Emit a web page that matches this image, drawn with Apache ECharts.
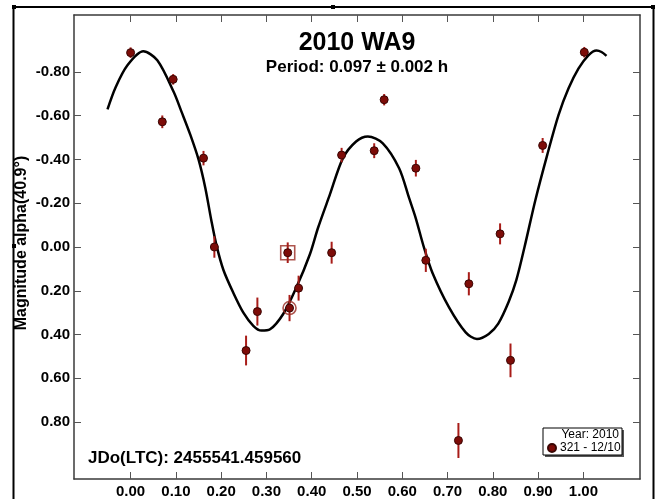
<!DOCTYPE html>
<html>
<head>
<meta charset="utf-8">
<title>2010 WA9</title>
<script src="https://cdn.jsdelivr.net/npm/echarts@6/dist/echarts.min.js"></script>
<style>
  html, body { margin: 0; padding: 0; background: #fff; }
  #chart { width: 657px; height: 499px; }
</style>
</head>
<body>
<div id="chart"></div>
<script>
// Datos (fase, magnitud, error)
const phase = [0.000, 0.070, 0.094, 0.161, 0.185, 0.255, 0.280, 0.347, 0.351, 0.371, 0.444,
               0.466, 0.538, 0.560, 0.630, 0.652, 0.724, 0.747, 0.816, 0.839, 0.910, 1.002];
const magnitude = [-0.888, -0.572, -0.766, -0.406, 0.000, 0.473, 0.295, 0.026, 0.279, 0.188, 0.026,
                   -0.420, -0.440, -0.673, -0.360, 0.061, 0.884, 0.168, -0.060, 0.518, -0.464, -0.890];
const magError = [0.024, 0.029, 0.024, 0.033, 0.049, 0.068, 0.064, 0.047, 0.060, 0.057, 0.050,
                  0.033, 0.034, 0.026, 0.038, 0.053, 0.080, 0.053, 0.048, 0.077, 0.034, 0.024];

const fitPhase = [-0.051, -0.033, -0.007, 0.028, 0.059, 0.095, 0.113, 0.132, 0.150, 0.165, 0.178,
                  0.190, 0.205, 0.227, 0.249, 0.271, 0.289, 0.308, 0.337, 0.366, 0.396, 0.414,
                  0.440, 0.469, 0.498, 0.524, 0.557, 0.593, 0.615, 0.630, 0.648, 0.667, 0.703,
                  0.740, 0.765, 0.791, 0.812, 0.835, 0.852, 0.870, 0.894, 0.920, 0.945, 0.967,
                  0.989, 1.011, 1.029, 1.040, 1.051];
const fitMag = [-0.629, -0.730, -0.830, -0.894, -0.853, -0.709, -0.615, -0.512, -0.400, -0.270, -0.125,
                -0.005, 0.105, 0.210, 0.300, 0.360, 0.382, 0.376, 0.306, 0.185, 0.033, -0.088,
                -0.239, -0.406, -0.482, -0.505, -0.474, -0.360, -0.224, -0.130, 0.003, 0.120, 0.275,
                0.390, 0.420, 0.397, 0.350, 0.250, 0.150, 0.000, -0.215, -0.420, -0.603, -0.724,
                -0.815, -0.876, -0.898, -0.891, -0.873];

// Puntos marcados (cuadrado y círculo)
const squarePoint = [0.347, 0.026];
const circlePoint = [0.351, 0.279];

const xTicks = [0, 0.1, 0.2, 0.3, 0.4, 0.5, 0.6, 0.7, 0.8, 0.9, 1.0];
const yTicks = [-0.8, -0.6, -0.4, -0.2, 0, 0.2, 0.4, 0.6, 0.8];

const seriesName = '321 - 12/10';

document.addEventListener('DOMContentLoaded', function() {
    const chart = echarts.init(document.getElementById('chart'), null, { renderer: 'canvas' });
    const font = "'Liberation Sans', Arial, sans-serif";
    const axisColor = '#3a3a3a';

    const points = phase.map((p, i) => [p, magnitude[i], magError[i]]);
    const fitLine = fitPhase.map((p, i) => [p, fitMag[i]]);

    // Ejes con marcas hacia dentro
    function xAxis(pos, showLabels) {
        return {
            type: 'value', position: pos, min: -0.125, max: 1.125,
            axisLine: { show: true, onZero: false, lineStyle: { color: axisColor, width: 1.5 } },
            axisTick: { show: true, inside: true, length: 7, customValues: xTicks,
                        lineStyle: { color: '#555', width: 1 } },
            axisLabel: { show: showLabels, customValues: xTicks, margin: 5,
                         formatter: v => v.toFixed(2),
                         color: '#000', fontFamily: font, fontWeight: 'bold', fontSize: 15 },
            splitLine: { show: false }
        };
    }
    function yAxis(pos, showLabels) {
        return {
            type: 'value', position: pos, inverse: true, min: -1.06, max: 1.06,
            axisLine: { show: true, onZero: false, lineStyle: { color: axisColor, width: 1.5 } },
            axisTick: { show: true, inside: true, length: 7, customValues: yTicks,
                        lineStyle: { color: '#555', width: 1 } },
            axisLabel: { show: showLabels, customValues: yTicks, margin: 4,
                         formatter: v => v.toFixed(2),
                         color: '#000', fontFamily: font, fontWeight: 'bold', fontSize: 15 },
            splitLine: { show: false }
        };
    }

    const option = {
        animation: false,
        backgroundColor: '#fff',
        grid: { left: 74, right: 17, top: 15, bottom: 17 },
        xAxis: [xAxis('bottom', true), xAxis('top', false)],
        yAxis: [yAxis('left', true), yAxis('right', false)],
        legend: {
            data: [{ name: seriesName, icon: 'circle' }],
            left: 547, top: 442, padding: 0,
            itemWidth: 8, itemHeight: 8, itemGap: 4,
            textStyle: { fontFamily: font, fontSize: 12, color: '#000', padding: [0, 0, 0, -1] }
        },
        series: [
            {
                name: 'fit', type: 'line', data: fitLine, smooth: 0.3,
                showSymbol: false, lineStyle: { color: '#000', width: 2.5 }, z: 2
            },
            {
                name: 'err', type: 'custom', data: points, z: 3,
                encode: { x: 0, y: 1 },
                renderItem: function(params, api) {
                    const x = api.value(0), y = api.value(1), e = api.value(2);
                    const p1 = api.coord([x, y - e]);
                    const p2 = api.coord([x, y + e]);
                    return {
                        type: 'line',
                        shape: { x1: p1[0], y1: p1[1], x2: p2[0], y2: p2[1] },
                        style: { stroke: '#a81c18', lineWidth: 2 }
                    };
                }
            },
            {
                name: seriesName, type: 'scatter', data: points, symbolSize: 8, z: 4,
                encode: { x: 0, y: 1 },
                itemStyle: { color: '#7d0c08', borderColor: '#3a0604', borderWidth: 1, opacity: 1 }
            },
            {
                name: 'square', type: 'scatter', data: [squarePoint], symbol: 'rect', symbolSize: 14, z: 5,
                itemStyle: { color: 'rgba(0,0,0,0)', borderColor: '#9a2a22', borderWidth: 1.6 }
            },
            {
                name: 'circle', type: 'scatter', data: [circlePoint], symbol: 'circle', symbolSize: 13, z: 5,
                itemStyle: { color: 'rgba(0,0,0,0)', borderColor: '#9a2a22', borderWidth: 1.6 }
            }
        ],
        graphic: [
            // Marco exterior
            { type: 'polyline', shape: { points: [[13.5, 499], [13.5, 7], [653.5, 7], [653.5, 499]] },
              style: { stroke: '#000', lineWidth: 2, fill: null }, silent: true },
            { type: 'rect', shape: { x: 12, y: 5, width: 4, height: 4 }, style: { fill: '#000' } },
            { type: 'rect', shape: { x: 651, y: 5, width: 4, height: 4 }, style: { fill: '#000' } },
            { type: 'rect', shape: { x: 331, y: 5, width: 4, height: 4 }, style: { fill: '#000' } },
            { type: 'rect', shape: { x: 12, y: 244, width: 4, height: 4 }, style: { fill: '#000' } },
            // Títulos
            { type: 'text', x: 357, y: 43,
              style: { text: '2010 WA9', textAlign: 'center', textVerticalAlign: 'middle',
                       font: 'bold 25px ' + font, fill: '#000' } },
            { type: 'text', x: 357, y: 67,
              style: { text: 'Period: 0.097 \u00b1 0.002 h', textAlign: 'center', textVerticalAlign: 'middle',
                       font: 'bold 17px ' + font, fill: '#000' } },
            { type: 'text', x: 88, y: 458,
              style: { text: 'JDo(LTC): 2455541.459560', textAlign: 'left', textVerticalAlign: 'middle',
                       font: 'bold 17px ' + font, fill: '#000' } },
            // Nombre del eje Y
            { type: 'text', x: 22, y: 243, rotation: Math.PI / 2,
              style: { text: 'Magnitude alpha(40.9\u00b0)', textAlign: 'center', textVerticalAlign: 'middle',
                       font: 'bold 16px ' + font, fill: '#000' } },
            // Caja de la leyenda
            { type: 'rect', z: 1, shape: { x: 545, y: 430, width: 79, height: 27 },
              style: { fill: '#555', stroke: null } },
            { type: 'rect', z: 2, shape: { x: 543, y: 428, width: 79, height: 27 },
              style: { fill: '#fff', stroke: '#000', lineWidth: 1 } },
            { type: 'text', z: 3, x: 619, y: 435,
              style: { text: 'Year: 2010', textAlign: 'right', textVerticalAlign: 'middle',
                       font: '12px ' + font, fill: '#000' } }
        ]
    };

    chart.setOption(option);
    window.addEventListener('resize', () => chart.resize());
});
</script>
</body>
</html>
